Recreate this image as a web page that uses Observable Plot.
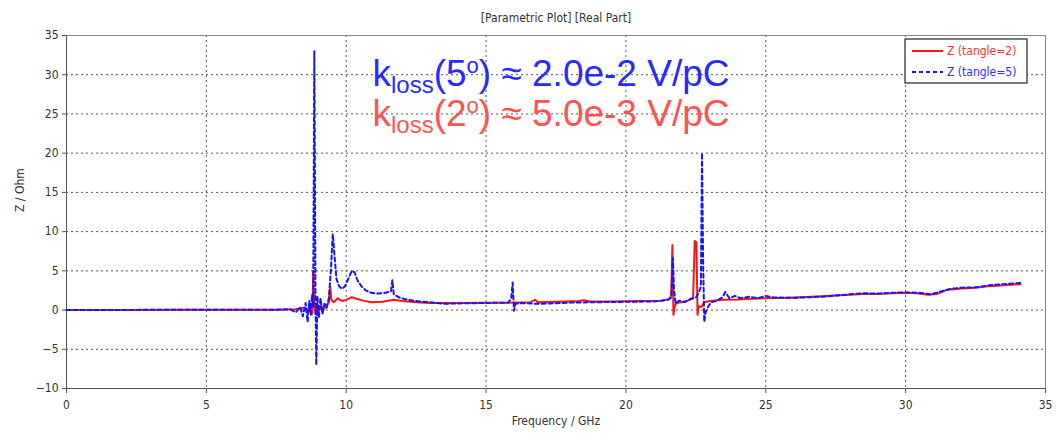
<!DOCTYPE html>
<html>
<head>
<meta charset="utf-8">
<script src="https://cdn.jsdelivr.net/npm/d3@7"></script>
<script src="https://cdn.jsdelivr.net/npm/@observablehq/plot@0.6"></script>
<style>
  body { margin: 0; background: #fff; }
  svg { display: block; }
</style>
</head>
<body>
<div id="chart"></div>
<script>
// Real part of the longitudinal impedance, tangle = 2 (GHz, Ohm)
const freq2 = [0, 2, 4, 6, 7.5, 8.2, 8.5, 8.6, 8.7, 8.78, 8.8, 8.82, 8.85, 8.9, 8.95, 9.0, 9.1, 9.2, 9.3, 9.38,
  9.43, 9.47, 9.55, 9.7, 9.85, 10.0, 10.2, 10.4, 10.6, 10.9, 11.3, 11.7, 12.0, 12.5, 13.0, 14, 15, 16, 16.6, 16.75,
  16.85, 17.5, 18.3, 18.5, 18.7, 19.5, 20.5, 21.3, 21.55, 21.62, 21.66, 21.7, 21.74, 21.8, 22.0, 22.2, 22.4, 22.46, 22.52, 22.56,
  22.6, 22.7, 22.8, 22.9, 23.1, 23.5, 24, 24.5, 25, 25.5, 26, 27, 28, 28.5, 29, 29.5, 30, 30.4, 30.8, 31.1,
  31.5, 32, 32.5, 33, 33.5, 34.1];
const z2 = [0, 0.02, 0.03, 0.05, 0.05, 0.1, 0.3, -0.2, 0.6, -0.5, 0.3, 5.0, 1.0, -0.5, 0.8, -0.3, 0.5, 0.1, 0.6, 1.0,
  2.9, 1.3, 1.0, 1.5, 1.15, 1.3, 1.65, 1.4, 1.2, 1.0, 1.05, 1.3, 1.15, 1.0, 0.9, 0.9, 0.92, 0.95, 1.0, 1.3,
  1.0, 1.05, 1.15, 1.25, 1.1, 1.1, 1.15, 1.2, 1.4, 1.9, 8.3, -0.6, 0.4, 0.9, 1.0, 1.2, 1.5, 8.8, 8.6, -0.6,
  0.5, 0.4, 1.0, 1.1, 1.2, 1.3, 1.35, 1.45, 1.5, 1.55, 1.6, 1.75, 1.95, 2.05, 2.05, 2.15, 2.2, 2.15, 1.95, 2.05,
  2.6, 2.75, 2.85, 3.05, 3.15, 3.3];

// Real part of the longitudinal impedance, tangle = 5 (GHz, Ohm)
const freq5 = [0, 2, 4, 6, 7.5, 8.0, 8.2, 8.35, 8.45, 8.55, 8.62, 8.68, 8.74, 8.78, 8.82, 8.86, 8.9, 8.93, 8.97, 9.02,
  9.08, 9.15, 9.22, 9.3, 9.38, 9.45, 9.52, 9.58, 9.65, 9.75, 9.85, 9.95, 10.05, 10.2, 10.3, 10.4, 10.55, 10.7, 10.9, 11.1,
  11.4, 11.6, 11.65, 11.7, 11.9, 12.2, 12.6, 13.0, 13.5, 14, 15, 15.8, 15.9, 15.95, 16.0, 16.05, 16.3, 16.8, 17.3, 18,
  19, 20, 21, 21.5, 21.62, 21.68, 21.72, 21.78, 21.9, 22.1, 22.3, 22.5, 22.6, 22.68, 22.72, 22.76, 22.8, 22.85, 22.95, 23.05,
  23.25, 23.45, 23.55, 23.7, 23.9, 24.1, 24.4, 24.7, 25, 25.3, 26, 27, 28, 28.5, 29, 29.5, 30, 30.5, 30.9, 31.2,
  31.6, 32, 32.5, 33, 33.5, 34.1];
const z5 = [0, 0.02, 0.03, 0.03, 0.05, 0.1, -0.3, 0.4, -0.8, 0.9, -1.5, 1.2, -0.6, 2.0, 0.5, 33.0, 2.5, -7.0, 1.8, -1.0,
  1.5, -0.5, 0.8, 0.3, 1.5, 5.0, 9.7, 7.0, 4.0, 3.0, 2.7, 3.0, 3.8, 5.0, 4.8, 3.8, 3.0, 2.5, 2.2, 2.1,
  2.2, 2.4, 3.8, 2.0, 1.6, 1.3, 1.1, 1.0, 0.8, 0.85, 0.9, 0.95, 1.5, 3.5, -0.1, 0.8, 0.9, 0.8, 0.85, 0.95,
  1.0, 1.05, 1.1, 1.3, 1.6, 6.6, 2.5, 0.8, 1.2, 1.0, 1.4, 1.6, 2.2, 3.0, 20.0, 6.0, -1.5, -0.3, 0.5, 1.0,
  1.2, 1.6, 2.3, 1.5, 1.8, 1.5, 1.7, 1.5, 1.8, 1.6, 1.55, 1.7, 2.0, 2.15, 2.1, 2.2, 2.25, 2.2, 2.0, 2.3,
  2.7, 2.85, 2.9, 3.15, 3.3, 3.45];

const seriesNames = ["Z (tangle=2)", "Z (tangle=5)"];
const xTicks = [0, 5, 10, 15, 20, 25, 30, 35];
const yTicks = [-10, -5, 0, 5, 10, 15, 20, 25, 30, 35];
const xGrid = [5, 10, 15, 20, 25, 30];
const yGrid = [-5, 0, 5, 10, 15, 20, 25, 30];

// Loss-factor annotations: k_loss(angle°) ≈ value
const noteAngles = ["5", "2"];
const noteValues = ["2.0e-2", "5.0e-3"];
const noteStrings = noteAngles.map((a, i) => `kloss(${a}o) ≈ ${noteValues[i]} V/pC`);

const series2 = freq2.map((f, i) => ({f, z: z2[i]}));
const series5 = freq5.map((f, i) => ({f, z: z5[i]}));

const RED = "#ff1414";
const BLUE = "#1414ff";
const AXIS_FONT = "'DejaVu Sans Condensed', 'DejaVu Sans', sans-serif";
const NOTE_FONT = "'Liberation Sans', Arial, sans-serif";

const chart = Plot.plot({
  width: 1059,
  height: 433,
  marginLeft: 66,
  marginRight: 14,
  marginTop: 35,
  marginBottom: 45,
  style: {fontFamily: AXIS_FONT, fontSize: "12px", color: "#333", background: "#fff"},
  x: {domain: [0, 35]},
  y: {domain: [-10, 35]},
  marks: [
    Plot.gridX(xGrid, {stroke: "#555", strokeOpacity: 1, strokeDasharray: "2,3"}),
    Plot.gridY(yGrid, {stroke: "#555", strokeOpacity: 1, strokeDasharray: "2,3"}),
    Plot.frame({stroke: "#8a8a8a"}),
    Plot.ruleX([0], {stroke: "#555"}),
    Plot.ruleY([-10], {stroke: "#555"}),
    Plot.axisX(xTicks, {tickSize: 5, tickPadding: 7, label: null, stroke: "#555"}),
    Plot.axisY(yTicks, {tickSize: 4, tickPadding: 4, label: null, stroke: "#555"}),
    Plot.line(series2, {x: "f", y: "z", stroke: RED, strokeWidth: 2}),
    Plot.line(series5, {x: "f", y: "z", stroke: BLUE, strokeWidth: 2, strokeDasharray: "4,3"}),
    Plot.text(["[Parametric Plot] [Real Part]"], {frameAnchor: "top", dy: -22, fill: "#333"}),
    Plot.text(["Frequency / GHz"], {frameAnchor: "bottom", dy: 36, fill: "#333"}),
    Plot.text(["Z / Ohm"], {frameAnchor: "left", dx: -46, rotate: -90, fill: "#333"}),
    Plot.text([noteStrings[0]], {x: () => 10.94, y: () => 28.6, textAnchor: "start", lineAnchor: "bottom",
      fill: "#2a2aff", fontSize: 37, fontFamily: NOTE_FONT}),
    Plot.text([noteStrings[1]], {x: () => 10.94, y: () => 23.4, textAnchor: "start", lineAnchor: "bottom",
      fill: "#ff5252", fontSize: 37, fontFamily: NOTE_FONT})
  ]
});

// Typeset the annotations with a "loss" subscript and a raised degree "o"
chart.querySelectorAll("text").forEach(el => {
  const i = noteStrings.indexOf(el.textContent);
  if (i < 0) return;
  el.textContent = "";
  const t = d3.select(el);
  t.append("tspan").text("k");
  t.append("tspan").attr("font-size", 24).attr("dy", 7).text("loss");
  t.append("tspan").attr("font-size", 37).attr("dy", -7).text("(" + noteAngles[i]);
  t.append("tspan").attr("font-size", 22).attr("dy", -13).text("o");
  t.append("tspan").attr("font-size", 37).attr("dy", 13).text(`) \u2248 ${noteValues[i]} V/pC`);
});

// Legend box in the upper right corner of the frame
const legend = d3.select(chart).append("g")
  .attr("font-family", AXIS_FONT).attr("font-size", 12).attr("text-anchor", "start");
legend.append("rect").attr("x", 905).attr("y", 39).attr("width", 122).attr("height", 44)
  .attr("fill", "#fff").attr("stroke", "#222").attr("stroke-width", 1.2);
const legendRows = [
  {name: seriesNames[0], color: RED, text: "#ff3030", dash: null, y: 51},
  {name: seriesNames[1], color: BLUE, text: "#3030ff", dash: "4,3", y: 72}
];
legendRows.forEach(r => {
  legend.append("line").attr("x1", 912).attr("x2", 943).attr("y1", r.y).attr("y2", r.y)
    .attr("stroke", r.color).attr("stroke-width", 2).attr("stroke-dasharray", r.dash);
  legend.append("text").attr("x", 947).attr("y", r.y).attr("dy", "0.35em")
    .attr("fill", r.text).text(r.name);
});

document.getElementById("chart").appendChild(chart);
</script>
</body>
</html>
